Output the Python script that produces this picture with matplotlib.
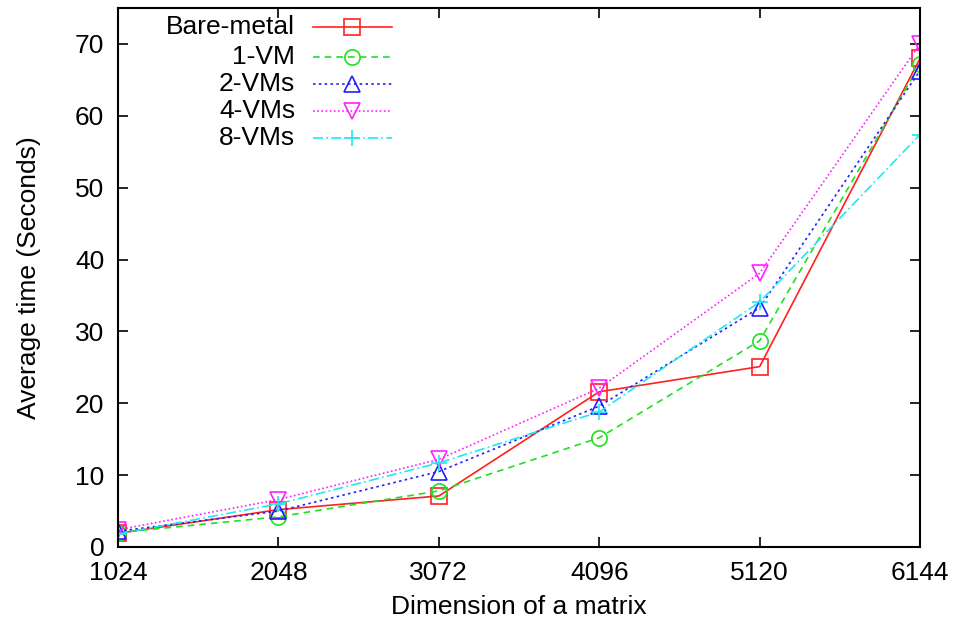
import matplotlib
matplotlib.use("Agg")
import matplotlib.pyplot as plt

plt.rcParams['font.family'] = ['Liberation Sans', 'DejaVu Sans']

# matrix dimensions
dims = [1024, 2048, 3072, 4096, 5120, 6144]

# average time in seconds
bare_metal = [1.9, 5.2, 7.1, 21.6, 25.1, 68.0]
vm1 = [2.0, 4.2, 7.8, 15.2, 28.7, 67.2]
vm2 = [2.2, 5.0, 10.5, 19.6, 33.3, 66.3]
vm4 = [2.4, 6.6, 12.2, 22.1, 38.1, 70.0]
vm8 = [1.8, 6.0, 11.7, 18.8, 34.1, 57.4]

labels = ["Bare-metal", "1-VM", "2-VMs", "4-VMs", "8-VMs"]
series = [bare_metal, vm1, vm2, vm4, vm8]
colors = ["#ff2020", "#20e020", "#2020ff", "#ff20ff", "#20e8f0"]
markers = ["s", "o", "^", "v", "+"]
styles = ["-", (0, (4, 3)), (0, (1.5, 2)), (0, (1, 1.5)), (0, (6, 2, 1, 2))]

fs = 19

fig = plt.figure(figsize=(9.55, 6.27), dpi=100)
ax = fig.add_axes([0.1236, 0.1276, 0.8398, 0.8596])

for ys, lab, c, m, ls in zip(series, labels, colors, markers, styles):
    ax.plot(dims, ys, color=c, linestyle=ls, marker=m, markersize=11,
            markerfacecolor="none", markeredgewidth=1.2, linewidth=1.2,
            label=lab)

ax.set_xlim(1024, 6144)
ax.set_ylim(0, 75)
ax.set_xticks(dims)
ax.set_yticks(range(0, 71, 10))
ax.tick_params(direction="in", length=7, width=1.2, labelsize=fs,
               top=True, right=True)
ax.tick_params(axis="x", pad=10)
ax.tick_params(axis="y", pad=10)
for s in ax.spines.values():
    s.set_linewidth(1.5)

ax.set_xlabel("Dimension of a matrix", fontsize=fs, labelpad=7)
ax.set_ylabel("Average time (Seconds)", fontsize=fs, labelpad=24)

# gnuplot-style legend: right-aligned labels, sample line to the right
row_y = [0.965, 0.909, 0.859, 0.809, 0.759]
for ry, lab, c, m, ls in zip(row_y, labels, colors, markers, styles):
    ax.text(0.221, ry, lab, transform=ax.transAxes, ha="right", va="center",
            fontsize=fs)
    ax.plot([0.243, 0.342], [ry, ry], transform=ax.transAxes, color=c,
            linestyle=ls, linewidth=1.2, clip_on=False)
    ax.plot([0.292], [ry], transform=ax.transAxes, color=c, marker=m,
            markersize=11, markerfacecolor="none", markeredgewidth=1.2,
            clip_on=False)

fig.savefig("out.png", dpi=100)
